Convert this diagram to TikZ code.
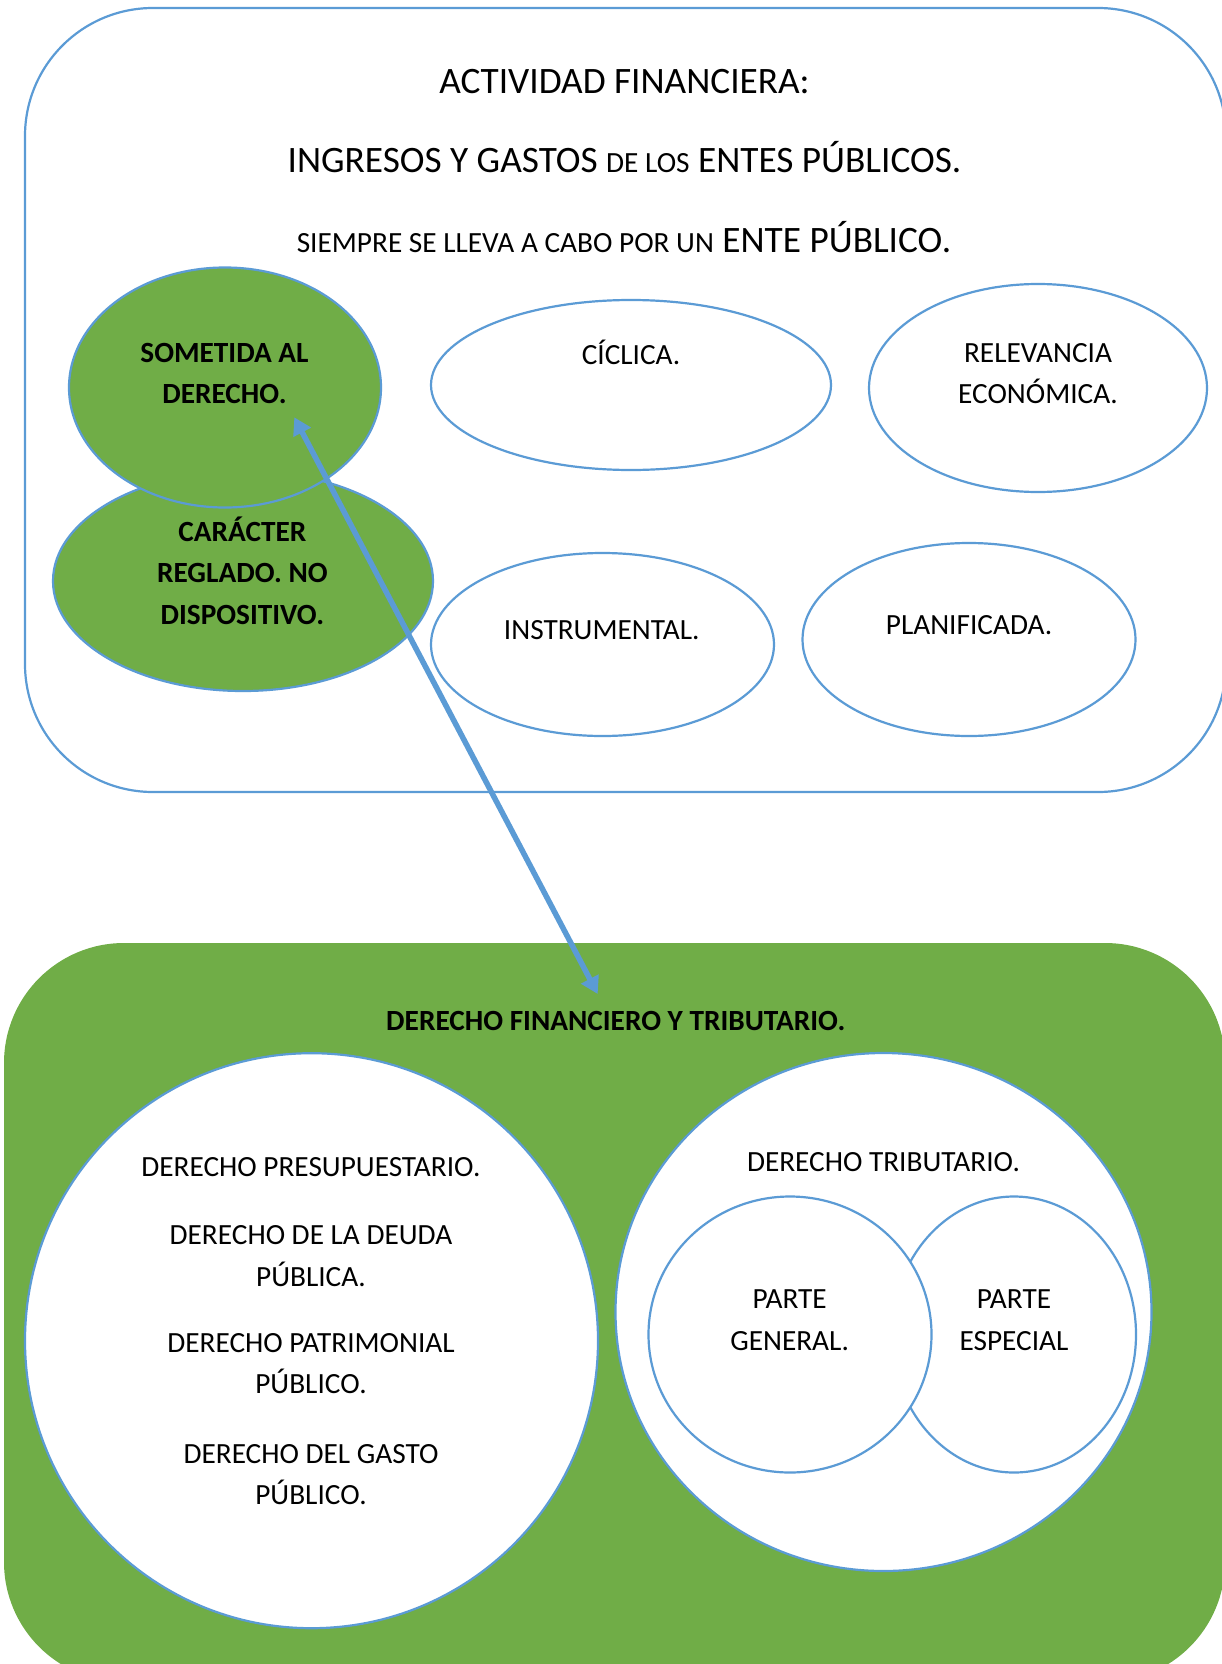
\documentclass[tikz,border=0pt]{standalone}
\usepackage{fontspec}
\setmainfont{Carlito}
\usetikzlibrary{shapes.geometric,arrows.meta}
\definecolor{ublue}{HTML}{5B9BD5}
\definecolor{ugreen}{HTML}{70AD47}
\newcommand\fsn{\fontsize{29.3}{35}\selectfont}
\newcommand\fbig{\fontsize{37.3}{44}\selectfont}
\tikzset{
  bl/.style={draw=ublue, line width=2.2pt},
  ell/.style={ellipse, bl, inner sep=0pt, outer sep=0pt},
  gell/.style={ell, fill=ugreen},
  well/.style={ell, fill=white},
  txt/.style={anchor=base, inner sep=0pt, outer sep=0pt, font=\fsn, text=black},
  btxt/.style={txt, font=\fsn\bfseries},
  bigtxt/.style={txt, font=\fbig},
  tip/.tip={Triangle[width=19pt,length=17pt]},
}
\begin{document}
\begin{tikzpicture}[x=1pt, y=-1pt]
\useasboundingbox (0,0) rectangle (1222,1664);
\clip (0,0) rectangle (1222,1664);
% frames
\node[rectangle, bl, fill=white, rounded corners=128pt, minimum width=1201pt, minimum height=784pt, inner sep=0pt, outer sep=0pt] (topbox) at (625.5,400) {};
\node[rectangle, fill=ugreen, rounded corners=120pt, minimum width=1221pt, minimum height=739pt, inner sep=0pt, outer sep=0pt] (botbox) at (614.5,1312.5) {};
% top ellipses
\node[gell, minimum width=380pt, minimum height=220pt] (car) at (243,581) {};
\node[gell, minimum width=312pt, minimum height=240pt] (som) at (225,387.5) {};
\node[well, minimum width=400pt, minimum height=170pt] (cic) at (631,385) {};
\node[well, minimum width=338pt, minimum height=208pt] (rel) at (1038,388) {};
\node[well, minimum width=343pt, minimum height=183pt] (ins) at (602.5,644.5) {};
\node[well, minimum width=333pt, minimum height=193pt] (pla) at (969,639.5) {};
% bottom circles
\node[well, minimum width=573pt, minimum height=575pt] (left) at (311.5,1340.7) {};
\node[well, minimum width=536pt, minimum height=518pt] (right) at (883.5,1312) {};
\node[well, minimum width=244pt, minimum height=276pt] (esp) at (1014,1334.5) {};
\node[well, minimum width=283pt, minimum height=276pt] (gen) at (790,1334.5) {};
% top texts
\node[bigtxt] (t1) at (624.5,94) {ACTIVIDAD FINANCIERA:};
\node[bigtxt] (t2) at (624.5,172.6) {INGRESOS Y GASTOS {\fsn DE LOS} ENTES PÚBLICOS.};
\node[bigtxt] (t3) at (624,252.6) {{\fsn SIEMPRE SE LLEVA A CABO POR UN} ENTE PÚBLICO.};
\node[btxt] (som1) at (224.5,362) {SOMETIDA AL};
\node[btxt] (som2) at (224.5,403.8) {DERECHO.};
\node[txt] (cic1) at (631,364.5) {CÍCLICA.};
\node[txt] (rel1) at (1038,362) {RELEVANCIA};
\node[txt] (rel2) at (1038,403.8) {ECONÓMICA.};
\node[btxt] (car1) at (242.4,541.3) {CARÁCTER};
\node[btxt] (car2) at (242.4,582.5) {REGLADO. NO};
\node[btxt] (car3) at (242.4,624) {DISPOSITIVO.};
\node[txt] (ins1) at (601.7,639) {INSTRUMENTAL.};
\node[txt] (pla1) at (969,634) {PLANIFICADA.};
% bottom texts
\node[btxt] (b0) at (615.8,1030) {DERECHO FINANCIERO Y TRIBUTARIO.};
\node[txt] (l1) at (311,1176.3) {DERECHO PRESUPUESTARIO.};
\node[txt] (l2) at (311,1244.6) {DERECHO DE LA DEUDA};
\node[txt] (l3) at (311,1286) {PÚBLICA.};
\node[txt] (l4) at (311,1352.8) {DERECHO PATRIMONIAL};
\node[txt] (l5) at (311,1393.7) {PÚBLICO.};
\node[txt] (l6) at (311,1463.2) {DERECHO DEL GASTO};
\node[txt] (l7) at (311,1504.6) {PÚBLICO.};
\node[txt] (r1) at (883.5,1171) {DERECHO TRIBUTARIO.};
\node[txt] (g1) at (789.6,1308) {PARTE};
\node[txt] (g2) at (789.6,1350) {GENERAL.};
\node[txt] (e1) at (1014,1308) {PARTE};
\node[txt] (e2) at (1014,1350) {ESPECIAL};
% arrow
\coordinate (aA) at (294.3,417.3);
\coordinate (aB) at (597.7,994);
\draw[ublue, line width=5.5pt, tip-tip] (aA) -- (aB);
\end{tikzpicture}
\end{document}
